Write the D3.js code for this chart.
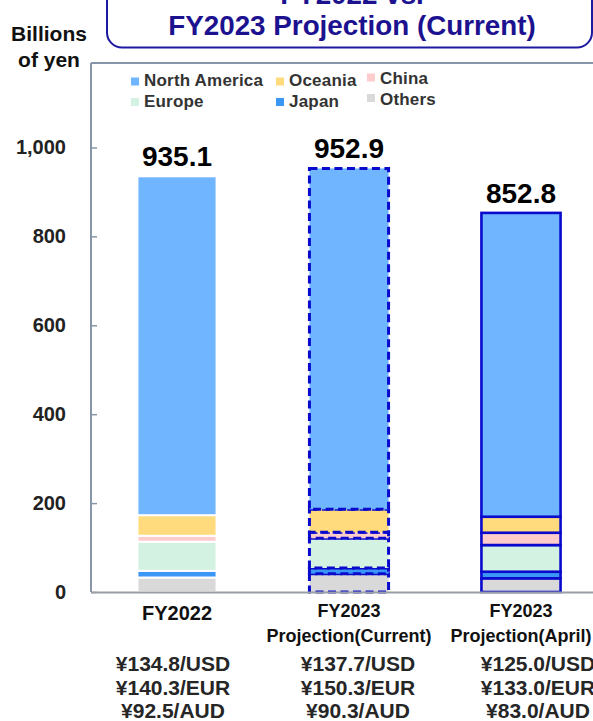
<!DOCTYPE html>
<html>
<head>
<meta charset="utf-8">
<script src="https://cdn.jsdelivr.net/npm/d3@7"></script>
<style>
  html, body { margin: 0; padding: 0; background: #fff; }
  svg { display: block; font-family: "Liberation Sans", Arial, sans-serif; }
</style>
</head>
<body>
<svg id="chart" width="593" height="721"></svg>
<script>
// ---- data (billions of yen) ----
const categories = ["FY2022", "FY2023 Projection(Current)", "FY2023 Projection(April)"];
const categoryLines = [["FY2022"], ["FY2023", "Projection(Current)"], ["FY2023", "Projection(April)"]];
const regionKeys = ["Others", "Japan", "Europe", "China", "Oceania", "North America"]; // bottom → top
const northAmerica = [762.3, 766.9, 683.5];
const oceania      = [46.3, 51.7, 36.0];
const china        = [13.3, 13.5, 27.7];
const europe       = [65.5, 66.8, 60.0];
const japan        = [15.1, 12.8, 14.8];
const others       = [32.6, 41.2, 30.8];
const totals       = [935.1, 952.9, 852.8];
const yTicks       = [0, 200, 400, 600, 800, 1000];
const rateLabels = [
  ["¥134.8/USD", "¥140.3/EUR", "¥92.5/AUD"],
  ["¥137.7/USD", "¥150.3/EUR", "¥90.3/AUD"],
  ["¥125.0/USD", "¥133.0/EUR", "¥83.0/AUD"]
];
const legendOrder = [["North America", "Oceania", "China"], ["Europe", "Japan", "Others"]];

// ---- styling ----
const colors = {
  "North America": "#6fb5ff",
  "Oceania": "#ffdb7d",
  "China": "#ffcccc",
  "Europe": "#d3f2e2",
  "Japan": "#3a97f5",
  "Others": "#d9d9d9"
};
const barBorder = ["none", "dashed", "solid"];
const navy = "#0a0acc";

const rows = categories.map((c, i) => ({
  category: c,
  "North America": northAmerica[i],
  "Oceania": oceania[i],
  "China": china[i],
  "Europe": europe[i],
  "Japan": japan[i],
  "Others": others[i]
}));

const svg = d3.select("#chart");

const plot = { left: 91, top: 63, bottom: 592, right: 607 };
const x = d3.scaleBand().domain(categories).range([plot.left, plot.right])
  .paddingInner(0.54).paddingOuter(0.27);
const y = d3.scaleLinear().domain([0, 1190]).range([plot.bottom, plot.top]);

// ---- title box ----
svg.append("rect")
  .attr("x", 107).attr("y", -40).attr("width", 485).attr("height", 87.5)
  .attr("rx", 15).attr("ry", 15)
  .attr("fill", "#fff").attr("stroke", "#1c1a9e").attr("stroke-width", 2);
const titleLines = ["FY2022 vs.", "FY2023 Projection (Current)"];
svg.selectAll("text.title").data(titleLines).join("text")
  .attr("class", "title")
  .attr("x", 352).attr("y", (d, i) => 4 + i * 31)
  .attr("text-anchor", "middle")
  .attr("font-size", 27.8).attr("font-weight", "bold")
  .attr("fill", "#1c1290")
  .text(d => d);

// ---- y axis unit ----
svg.selectAll("text.unit").data(["Billions", "of yen"]).join("text")
  .attr("class", "unit")
  .attr("x", 49).attr("y", (d, i) => 41 + i * 26)
  .attr("text-anchor", "middle")
  .attr("font-size", 21).attr("font-weight", "bold").attr("fill", "#111")
  .text(d => d);

// ---- plot frame ----
svg.append("line")
  .attr("x1", plot.left).attr("x2", 593)
  .attr("y1", plot.top).attr("y2", plot.top)
  .attr("stroke", "#8796aa").attr("stroke-width", 2);

// ---- y axis ----
const yAxis = svg.append("g")
  .attr("transform", `translate(${plot.left},0)`)
  .call(d3.axisRight(y).tickValues(yTicks).tickSize(6).tickFormat(""));
yAxis.select(".domain").remove();
yAxis.selectAll(".tick line").attr("stroke", "#8796aa").attr("stroke-width", 1.5);
svg.append("line")
  .attr("x1", plot.left).attr("x2", plot.left)
  .attr("y1", plot.top).attr("y2", plot.bottom)
  .attr("stroke", "#8796aa").attr("stroke-width", 2);

svg.selectAll("text.ytick").data(yTicks).join("text")
  .attr("class", "ytick")
  .attr("x", 66).attr("y", d => y(d) + 7)
  .attr("text-anchor", "end")
  .attr("font-size", 20).attr("font-weight", "bold").attr("fill", "#222")
  .text(d => d3.format(",")(d));

// ---- stacked bars ----
const series = d3.stack().keys(regionKeys)(rows);

const layers = svg.append("g").selectAll("g").data(series).join("g")
  .attr("fill", d => colors[d.key]);

layers.selectAll("rect").data(d => d).join("rect")
  .attr("x", d => x(d.data.category))
  .attr("width", x.bandwidth())
  .attr("y", d => y(d[1]))
  .attr("height", d => y(d[0]) - y(d[1]))
  .each(function (d) {
    const style = barBorder[categories.indexOf(d.data.category)];
    const r = d3.select(this);
    if (style === "none") {
      r.attr("stroke", "#fff").attr("stroke-width", 2);
    } else if (style === "dashed") {
      r.attr("stroke", navy).attr("stroke-width", 3).attr("stroke-dasharray", "8,4.5");
    } else {
      r.attr("stroke", navy).attr("stroke-width", 2.6);
    }
  });

// ---- x axis line ----
svg.append("line")
  .attr("x1", plot.left).attr("x2", 593)
  .attr("y1", plot.bottom + 0.5).attr("y2", plot.bottom + 0.5)
  .attr("stroke", "#9a9fa6").attr("stroke-width", 2);

// ---- total labels ----
svg.selectAll("text.total").data(totals).join("text")
  .attr("class", "total")
  .attr("x", (d, i) => x(categories[i]) + x.bandwidth() / 2)
  .attr("y", d => y(d) - 10)
  .attr("text-anchor", "middle")
  .attr("font-size", 28).attr("font-weight", "bold").attr("fill", "#000")
  .text(d => d3.format(".1f")(d));

// ---- category labels ----
categoryLines.forEach((lines, i) => {
  const cx = x(categories[i]) + x.bandwidth() / 2;
  const single = lines.length === 1;
  svg.append("g").selectAll("text").data(lines).join("text")
    .attr("x", cx)
    .attr("y", (d, j) => single ? 620 : 617 + j * 25)
    .attr("text-anchor", "middle")
    .attr("font-size", single ? 20 : 18).attr("font-weight", "bold").attr("fill", "#111")
    .text(d => d);
});

// ---- exchange rate labels ----
const rateShift = [-4, 9, 17];
rateLabels.forEach((lines, i) => {
  const cx = x(categories[i]) + x.bandwidth() / 2 + rateShift[i];
  svg.append("g").selectAll("text").data(lines).join("text")
    .attr("x", cx)
    .attr("y", (d, j) => 671 + j * 23.5)
    .attr("text-anchor", "middle")
    .attr("font-size", 21).attr("font-weight", "bold").attr("fill", "#262626")
    .text(d => d);
});

// ---- legend ----
const legendCols = [131, 276, 367];
const legendRows = [86, 106.5];
legendOrder.forEach((row, ri) => {
  row.forEach((name, ci) => {
    const lift = ci === 2 ? 2 : 0;
    const base = legendRows[ri] - lift;
    const g = svg.append("g");
    g.append("rect")
      .attr("x", legendCols[ci]).attr("y", base - (ci === 2 ? 10.5 : 8.5))
      .attr("width", 8).attr("height", 8)
      .attr("fill", colors[name]);
    g.append("text")
      .attr("x", legendCols[ci] + 13).attr("y", base)
      .attr("font-size", 17).attr("font-weight", "bold")
      .attr("letter-spacing", 0.2)
      .attr("fill", "#333")
      .text(name);
  });
});
</script>
</body>
</html>
